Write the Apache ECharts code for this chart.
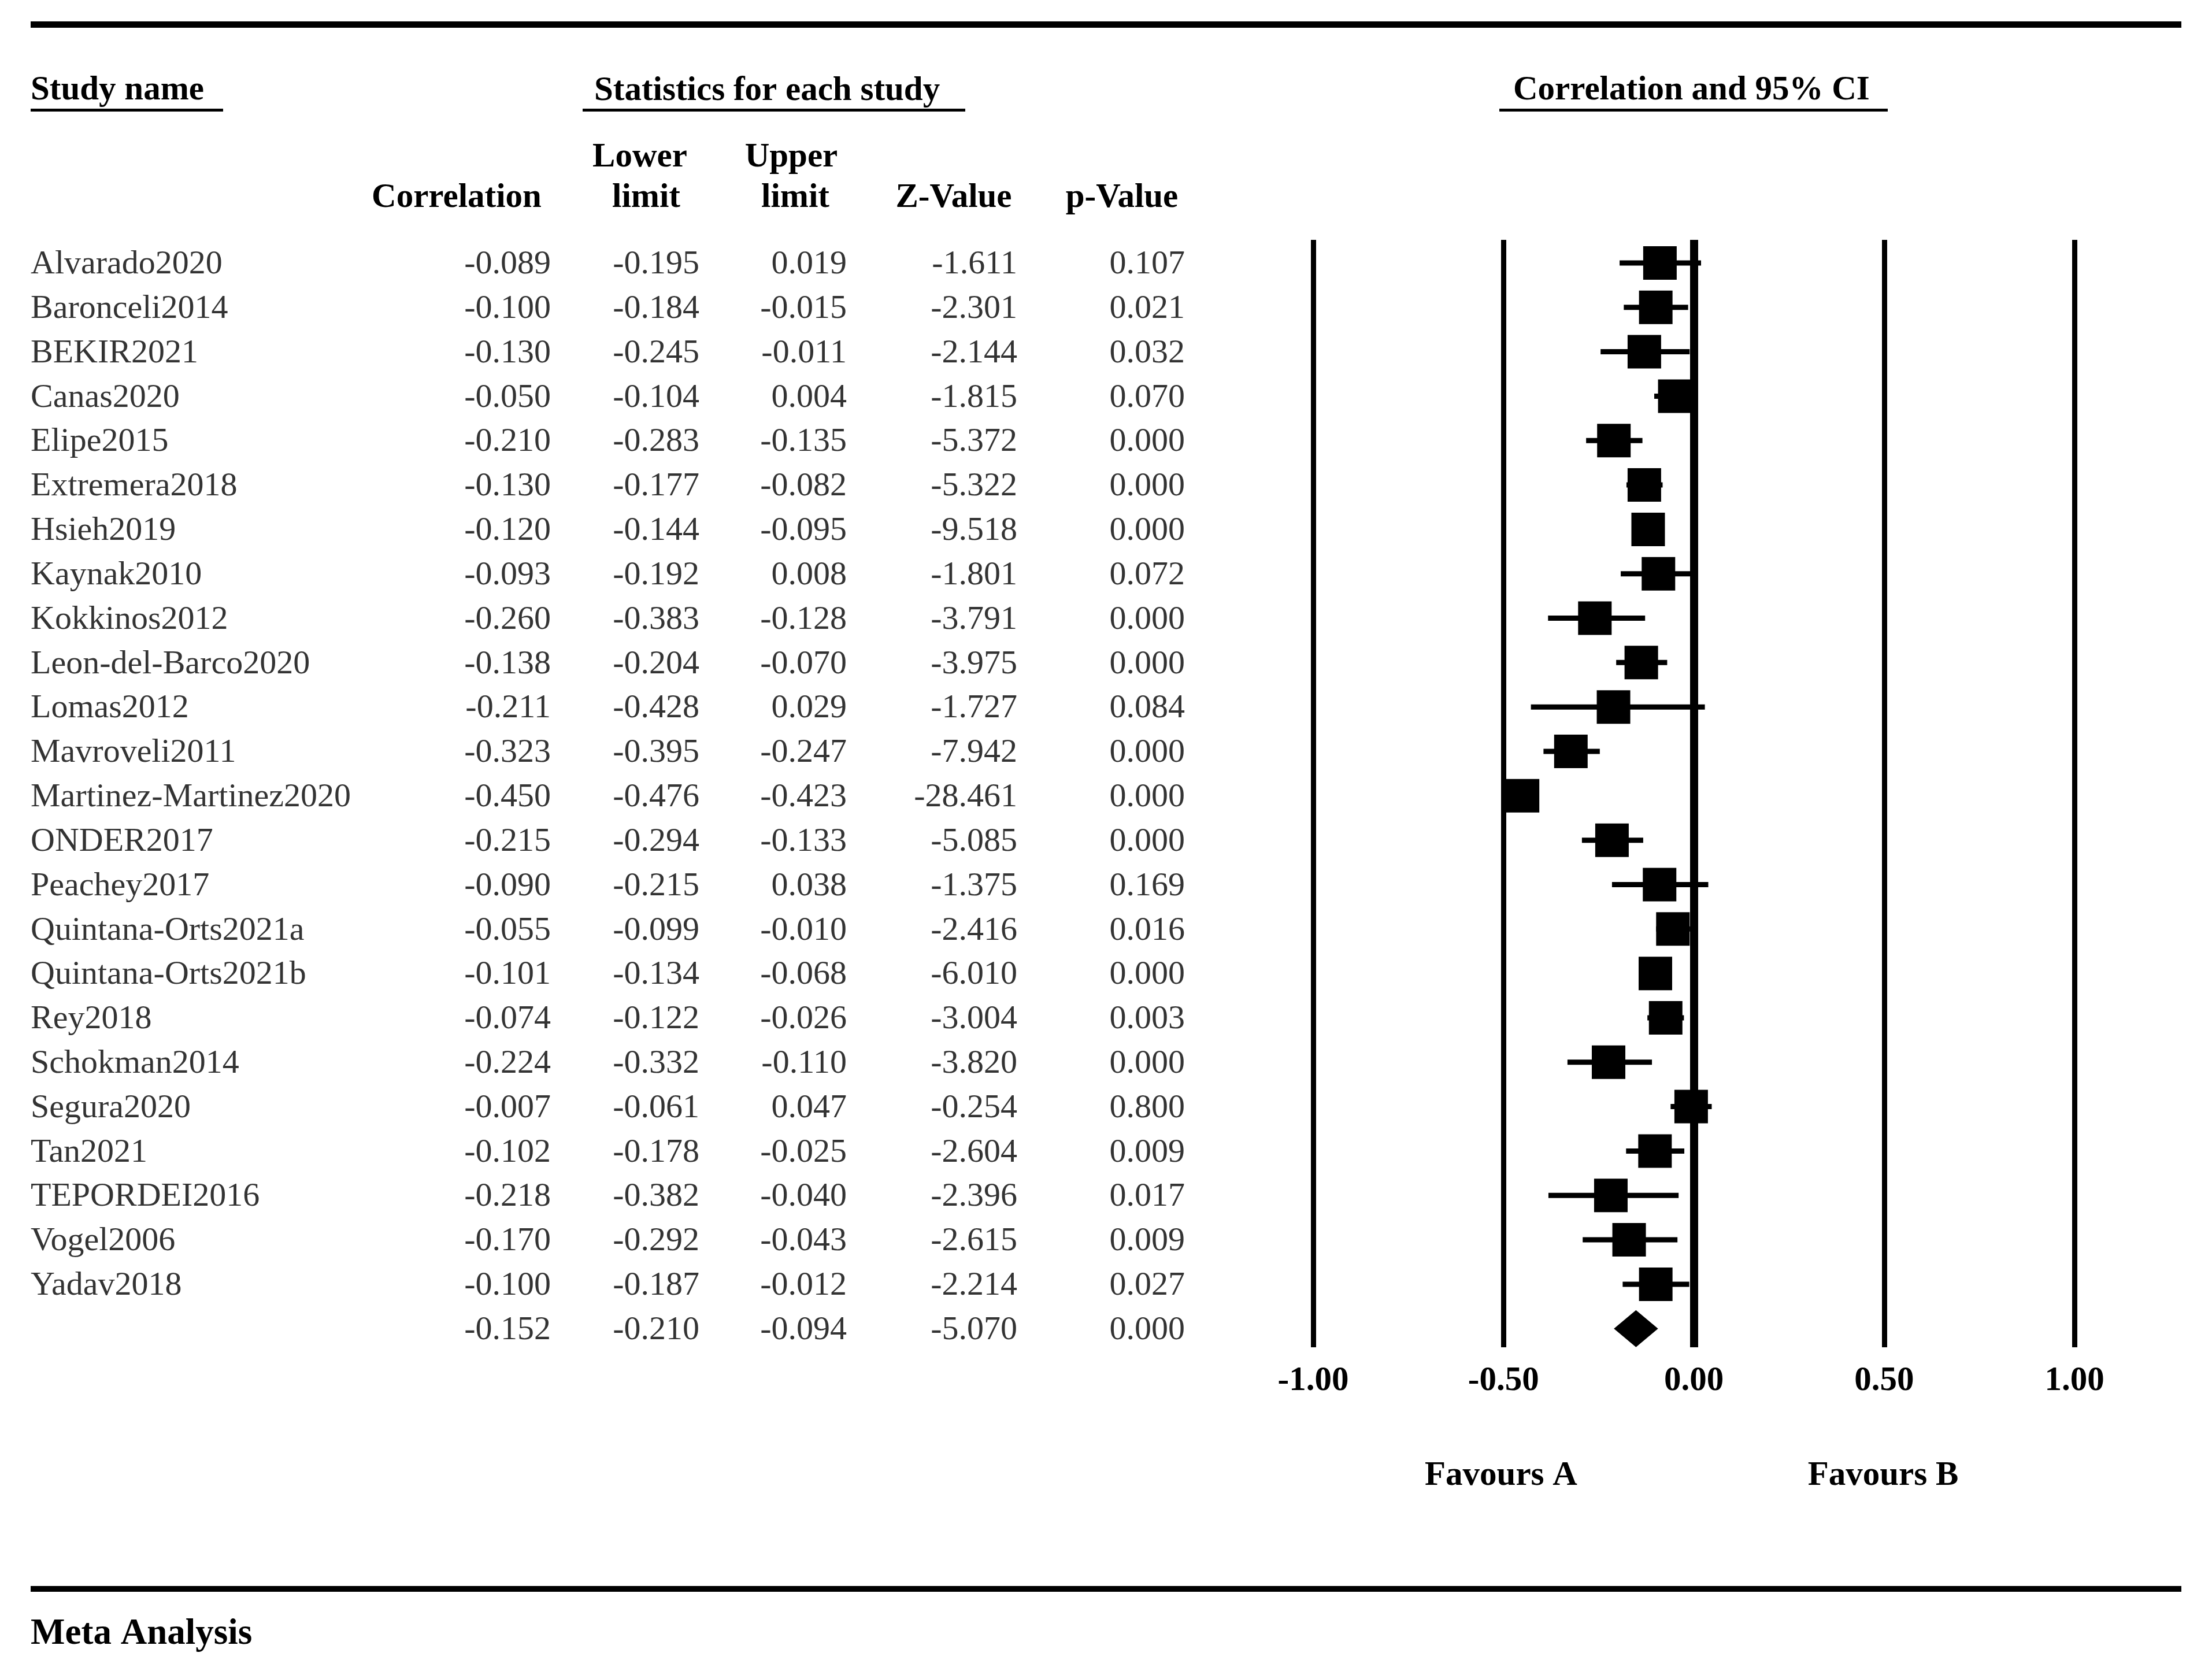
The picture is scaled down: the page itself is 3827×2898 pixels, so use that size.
<!DOCTYPE html>
<html>
<head>
<meta charset="utf-8">
<script src="https://cdn.jsdelivr.net/npm/echarts/dist/echarts.min.js"></script>
<style>
html,body{margin:0;padding:0;background:#fff;}
#chart{width:3827px;height:2898px;}
</style>
</head>
<body>
<div id="chart"></div>
<script>
// ---- data ----
const studies = ["Alvarado2020","Baronceli2014","BEKIR2021","Canas2020","Elipe2015","Extremera2018","Hsieh2019","Kaynak2010","Kokkinos2012","Leon-del-Barco2020","Lomas2012","Mavroveli2011","Martinez-Martinez2020","ONDER2017","Peachey2017","Quintana-Orts2021a","Quintana-Orts2021b","Rey2018","Schokman2014","Segura2020","Tan2021","TEPORDEI2016","Vogel2006","Yadav2018"];
const correlation = [-0.089,-0.100,-0.130,-0.050,-0.210,-0.130,-0.120,-0.093,-0.260,-0.138,-0.211,-0.323,-0.450,-0.215,-0.090,-0.055,-0.101,-0.074,-0.224,-0.007,-0.102,-0.218,-0.170,-0.100];
const lowerLimit = [-0.195,-0.184,-0.245,-0.104,-0.283,-0.177,-0.144,-0.192,-0.383,-0.204,-0.428,-0.395,-0.476,-0.294,-0.215,-0.099,-0.134,-0.122,-0.332,-0.061,-0.178,-0.382,-0.292,-0.187];
const upperLimit = [0.019,-0.015,-0.011,0.004,-0.135,-0.082,-0.095,0.008,-0.128,-0.070,0.029,-0.247,-0.423,-0.133,0.038,-0.010,-0.068,-0.026,-0.110,0.047,-0.025,-0.040,-0.043,-0.012];
const zValue = [-1.611,-2.301,-2.144,-1.815,-5.372,-5.322,-9.518,-1.801,-3.791,-3.975,-1.727,-7.942,-28.461,-5.085,-1.375,-2.416,-6.010,-3.004,-3.820,-0.254,-2.604,-2.396,-2.615,-2.214];
const pValue = [0.107,0.021,0.032,0.070,0.000,0.000,0.000,0.072,0.000,0.000,0.084,0.000,0.000,0.000,0.169,0.016,0.000,0.003,0.000,0.800,0.009,0.017,0.009,0.027];
const summaryCorr = -0.152, summaryLower = -0.210, summaryUpper = -0.094, summaryZ = -5.070, summaryP = 0.000;
const xTicks = [-1, -0.5, 0, 0.5, 1];

// ---- layout / style ----
const FONT = 'Liberation Serif, Times New Roman, serif';
const FS = 58, FSB = 59;
const colRight = {corr: 953, lower: 1210, upper: 1465, z: 1760, p: 2050};
const nameLeft = 53;
const nRows = studies.length; // summary row index = nRows

const fmt = v => v.toFixed(3);

function colSeries(x, vals, summary, align) {
  const data = vals.map((v, i) => ({name: typeof v === 'number' ? fmt(v) : v, value: [x, i]}));
  if (summary !== null) data.push({name: fmt(summary), value: [x, nRows]});
  return {
    type: 'scatter', xAxisIndex: 1, yAxisIndex: 1, symbolSize: 1, silent: true,
    itemStyle: {color: 'transparent'},
    label: {show: true, position: 'inside', align: align, verticalAlign: 'middle', offset: [0, 3],
      formatter: '{b}', color: '#000', fontFamily: FONT, fontSize: FS},
    data: data
  };
}

function txt(text, x, y, align, size, bold) {
  return {type: 'text', silent: true, style: {text: text, x: x, y: y + 5,
    align: align, verticalAlign: 'middle', textAlign: align, textVerticalAlign: 'middle',
    font: (bold ? 'bold ' : '') + size + 'px ' + FONT, fill: '#000'}};
}
function rule(x1, x2, y, w) {
  return {type: 'line', silent: true, shape: {x1: x1, y1: y, x2: x2, y2: y}, style: {stroke: '#000', lineWidth: w}};
}

const studyData = correlation.map((c, i) => [c, lowerLimit[i], upperLimit[i], i]);

const chart = echarts.init(document.getElementById('chart'));
chart.setOption({
  backgroundColor: '#fff',
  animation: false,
  grid: [
    {left: 2272, right: 238, top: 415, bottom: 567},
    {left: 0, right: 0, top: 415, bottom: 567}
  ],
  xAxis: [
    {type: 'value', gridIndex: 0, min: -1, max: 1, interval: 0.5,
      axisLine: {show: false}, axisTick: {show: false},
      axisLabel: {margin: 59, verticalAlign: 'middle', color: '#000', fontFamily: FONT, fontSize: FSB, fontWeight: 'bold',
        formatter: v => v.toFixed(2)},
      splitLine: {show: true, lineStyle: {color: '#000', width: 9}}},
    {type: 'value', gridIndex: 1, min: 0, max: 3827, show: false}
  ],
  yAxis: [
    {type: 'value', gridIndex: 0, min: -0.52, max: 24.42, inverse: true, show: false},
    {type: 'value', gridIndex: 1, min: -0.52, max: 24.42, inverse: true, show: false}
  ],
  series: [
    {
      type: 'custom', xAxisIndex: 0, yAxisIndex: 0, clip: false, silent: true,
      data: studyData,
      renderItem: function (params, api) {
        const c = api.coord([api.value(0), api.value(3)]);
        const lo = api.coord([api.value(1), api.value(3)]);
        const hi = api.coord([api.value(2), api.value(3)]);
        return {type: 'group', children: [
          {type: 'line', shape: {x1: lo[0], y1: c[1], x2: hi[0], y2: c[1]}, style: {stroke: '#000', lineWidth: 9}},
          {type: 'rect', shape: {x: c[0] - 29, y: c[1] - 29, width: 58, height: 58}, style: {fill: '#000'}}
        ]};
      },
      markLine: {silent: true, symbol: 'none', label: {show: false},
        lineStyle: {color: '#000', width: 14, type: 'solid'}, data: [{xAxis: 0}]}
    },
    {
      type: 'custom', xAxisIndex: 0, yAxisIndex: 0, clip: false, silent: true,
      data: [[summaryCorr, summaryLower, summaryUpper, nRows]],
      renderItem: function (params, api) {
        const c = api.coord([api.value(0), api.value(3)]);
        const lo = api.coord([api.value(1), api.value(3)]);
        const hi = api.coord([api.value(2), api.value(3)]);
        return {type: 'polygon', shape: {points: [[lo[0], c[1]], [c[0], c[1] - 32], [hi[0], c[1]], [c[0], c[1] + 32]]},
          style: {fill: '#000'}};
      }
    },
    colSeries(nameLeft, studies, null, 'left'),
    colSeries(colRight.corr, correlation, summaryCorr, 'right'),
    colSeries(colRight.lower, lowerLimit, summaryLower, 'right'),
    colSeries(colRight.upper, upperLimit, summaryUpper, 'right'),
    colSeries(colRight.z, zValue, summaryZ, 'right'),
    colSeries(colRight.p, pValue, summaryP, 'right')
  ],
  graphic: [
    rule(53, 3774, 42.5, 11),
    rule(53, 3774, 2749, 10),
    rule(53, 386, 190.5, 5),
    rule(1008, 1670, 190.5, 5),
    rule(2594, 3266, 190.5, 5),
    txt('Study name', 53, 152, 'left', FSB, true),
    txt('Statistics for each study', 1028, 153, 'left', FSB, true),
    txt('Correlation and 95% CI', 2618, 152, 'left', FSB, true),
    txt('Correlation', 790, 338, 'center', FSB, true),
    txt('Lower', 1107, 268, 'center', FSB, true),
    txt('limit', 1118, 338, 'center', FSB, true),
    txt('Upper', 1369, 268, 'center', FSB, true),
    txt('limit', 1376, 338, 'center', FSB, true),
    txt('Z-Value', 1650, 338, 'center', FSB, true),
    txt('p-Value', 1941, 338, 'center', FSB, true),
    txt('Favours A', 2597, 2549, 'center', FSB, true),
    txt('Favours B', 3258, 2549, 'center', FSB, true),
    txt('Meta Analysis', 53, 2823, 'left', 63, true)
  ]
});
</script>
</body>
</html>
